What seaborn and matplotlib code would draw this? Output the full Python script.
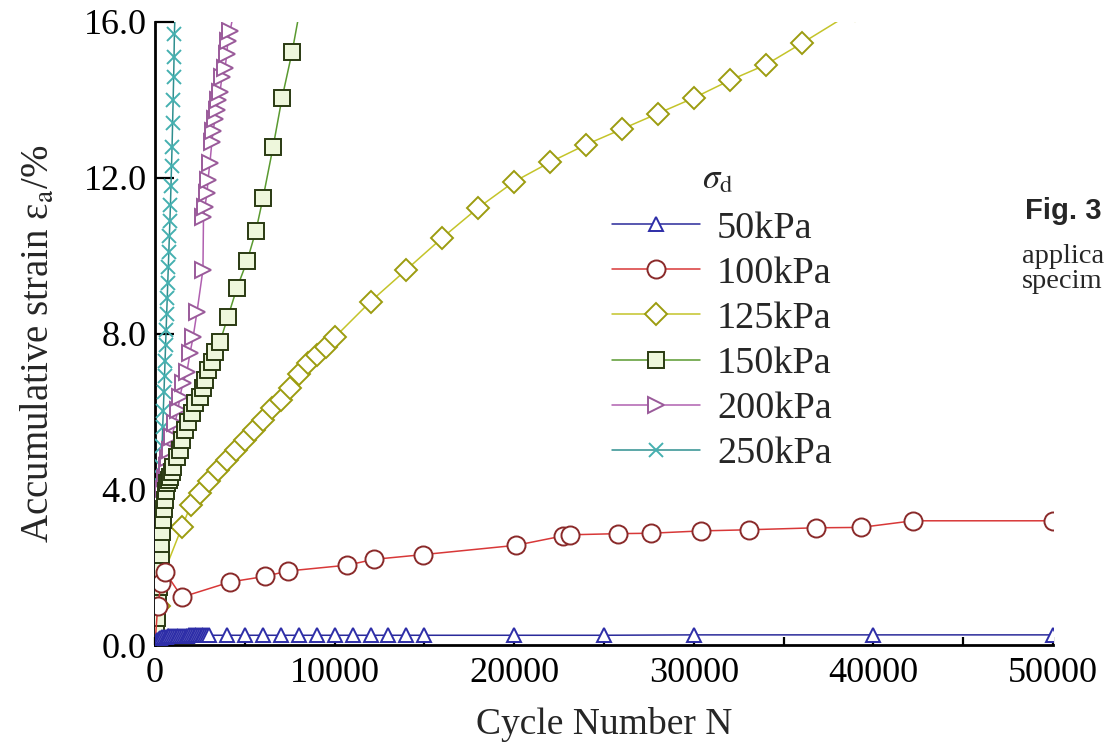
import numpy as np
import pandas as pd
import matplotlib
matplotlib.use("Agg")
import matplotlib.pyplot as plt
from matplotlib.ticker import MultipleLocator, FormatStrFormatter
import seaborn as sns

# ---- measured accumulative strain vs. cycle number -------------------------
cycles_50 = [0, 100, 200, 300, 400, 500, 600, 700, 800, 900, 1000, 1100, 1200,
             1300, 1400, 1500, 1600, 1700, 1800, 1900, 2000, 2100, 2200, 2300,
             2400, 2500, 2600, 2700, 2800, 2900, 3000, 4000, 5000, 6000, 7000,
             8000, 9000, 10000, 11000, 12000, 13000, 14000, 15000, 20000, 25000,
             30000, 40000, 50000]
strain_50 = [0.0, 0.12, 0.16, 0.18, 0.20, 0.21, 0.21, 0.22, 0.22, 0.23, 0.23,
             0.23, 0.23, 0.24, 0.24, 0.24, 0.24, 0.24, 0.24, 0.25, 0.25, 0.25,
             0.25, 0.25, 0.25, 0.25, 0.25, 0.25, 0.25, 0.25, 0.25, 0.25, 0.25,
             0.25, 0.25, 0.25, 0.25, 0.25, 0.25, 0.25, 0.25, 0.25, 0.25, 0.25,
             0.25, 0.26, 0.26, 0.26]

cycles_100 = [0, 150, 350, 550, 1500, 4200, 6100, 7400, 10700, 12200, 14900,
              20100, 22700, 23100, 25800, 27600, 30400, 33100, 36800, 39300,
              42200, 50000]
strain_100 = [0.0, 1.0, 1.6, 1.88, 1.23, 1.62, 1.76, 1.90, 2.05, 2.20, 2.32,
              2.56, 2.80, 2.83, 2.86, 2.87, 2.93, 2.96, 3.01, 3.02, 3.19, 3.19]

cycles_125 = [0, 200, 450, 1500, 2000, 2500, 3000, 3500, 4000, 4500, 5000,
              5500, 6000, 6500, 7000, 7500, 8000, 8500, 9000, 9500, 10000,
              12000, 14000, 16000, 18000, 20000, 22000, 24000, 26000, 28000,
              30000, 32000, 34000, 36000, 39000]
strain_125 = [0.0, 1.0, 1.8, 3.03, 3.6, 3.9, 4.2, 4.5, 4.75, 5.0, 5.27, 5.53,
              5.78, 6.09, 6.3, 6.6, 6.95, 7.25, 7.45, 7.65, 7.9, 8.82, 9.64,
              10.46, 11.23, 11.9, 12.4, 12.85, 13.25, 13.65, 14.05, 14.5, 14.9,
              15.45, 16.3]

cycles_150 = [0, 60, 100, 170, 220, 280, 320, 360, 400, 450, 500, 560, 610, 670,
              760, 840, 920, 1000, 1220, 1390, 1500, 1670, 1840, 2060, 2230,
              2510, 2670, 2780, 2950, 3170, 3340, 3620, 4060, 4570, 5120, 5620,
              6010, 6570, 7070, 7630, 8100]
strain_150 = [0.0, 0.4, 0.7, 1.16, 1.5, 1.93, 2.3, 2.6, 2.9, 3.21, 3.5, 3.73,
              3.95, 4.16, 4.25, 4.32, 4.45, 4.58, 4.83, 5.01, 5.27, 5.53, 5.73,
              5.96, 6.22, 6.38, 6.61, 6.81, 7.07, 7.28, 7.53, 7.79, 8.43, 9.18,
              9.85, 10.64, 11.47, 12.78, 14.04, 15.22, 16.4]

cycles_200 = [0, 60, 150, 250, 350, 450, 550, 650, 750, 840, 950, 1110, 1280,
              1390, 1560, 1780, 1950, 2120, 2340, 2670, 2700, 2780, 2900, 2950,
              3060, 3170, 3230, 3340, 3450, 3510, 3620, 3730, 3900, 4000, 4050,
              4180, 4400]
strain_200 = [0.0, 1.5, 2.6, 3.2, 3.7, 4.0, 4.3, 4.6, 4.8, 5.0, 5.35, 5.7,
              6.04, 6.38, 6.74, 7.02, 7.5, 7.9, 8.56, 9.64, 11.0, 11.26, 11.62,
              11.95, 12.39, 12.93, 13.19, 13.5, 13.75, 14.0, 14.2, 14.6, 14.83,
              15.17, 15.5, 15.76, 16.3]

cycles_250 = [0, 60, 120, 170, 220, 270, 310, 350, 390, 430, 460, 500, 530, 560,
              590, 620, 650, 680, 710, 740, 770, 800, 830, 860, 890, 920, 950,
              980, 1010, 1040, 1060, 1080, 1120]
strain_250 = [0.0, 0.8, 1.6, 2.3, 3.0, 3.6, 4.1, 4.6, 5.1, 5.6, 6.0, 6.5, 6.9,
              7.3, 7.7, 8.1, 8.5, 8.9, 9.3, 9.7, 10.1, 10.5, 10.9, 11.3, 11.8,
              12.3, 12.8, 13.4, 14.0, 14.6, 15.1, 15.7, 16.3]

series_labels = ["50kPa", "100kPa", "125kPa", "150kPa", "200kPa", "250kPa"]
x_ticks = [0, 10000, 20000, 30000, 40000, 50000]
y_ticks = [0.0, 4.0, 8.0, 12.0, 16.0]

# ---- styling ----------------------------------------------------------------
sns.set_theme(style="ticks")
plt.rcParams["font.family"] = ["Liberation Serif", "DejaVu Serif"]
plt.rcParams["mathtext.fontset"] = "stix"

styles = {
    "50kPa":  dict(color="#2a2a9a", marker="^", ms=10, mfc="white", mec="#2e2ea8", z=8),
    "100kPa": dict(color="#d83838", marker="o", ms=13, mfc="white", mec="#8a2a2a", z=7),
    "125kPa": dict(color="#c4c42a", marker="D", ms=11, mfc="white", mec="#9c9c10", z=5),
    "150kPa": dict(color="#5a9a30", marker="s", ms=11, mfc="#eef7dc", mec="#2a3a12", z=6),
    "200kPa": dict(color="#b060b0", marker=">", ms=12, mfc="white", mec="#9a5a9a", z=4),
    "250kPa": dict(color="#2f8f8f", marker="x", ms=10, mfc="none", mec="#45b0b0", z=3),
}

frames = []
for lab, xs, ys in zip(series_labels,
                       [cycles_50, cycles_100, cycles_125, cycles_150, cycles_200, cycles_250],
                       [strain_50, strain_100, strain_125, strain_150, strain_200, strain_250]):
    frames.append(pd.DataFrame({"N": xs, "strain": ys, "sigma": lab}))
df = pd.concat(frames, ignore_index=True)

fig = plt.figure(figsize=(11.04, 7.55), dpi=100)
ax = fig.add_axes([155 / 1104, 1 - 645 / 755, 898 / 1104, 623 / 755])

for lab in series_labels:
    st = styles[lab]
    sub = df[df["sigma"] == lab]
    sns.lineplot(data=sub, x="N", y="strain", ax=ax, sort=False, estimator=None,
                 color=st["color"], linewidth=1.1, marker=st["marker"],
                 markersize=st["ms"], markerfacecolor=st["mfc"],
                 markeredgecolor=st["mec"], markeredgewidth=1.4,
                 label=lab, zorder=st["z"], legend=False)

ax.set_xlim(0, 50000)
ax.set_ylim(0, 16)
ax.set_xticks(x_ticks)
ax.set_yticks(y_ticks)
ax.xaxis.set_minor_locator(MultipleLocator(5000))
ax.yaxis.set_major_formatter(FormatStrFormatter("%.1f"))

for side in ("top", "right"):
    ax.spines[side].set_visible(False)
for side in ("left", "bottom"):
    ax.spines[side].set_linewidth(2.0)
    ax.spines[side].set_color("black")

ax.tick_params(axis="x", which="both", direction="in", length=6, width=1.6,
               labelsize=26, pad=9, colors="black")
ax.tick_params(axis="y", which="major", direction="in", length=14, width=1.6,
               labelsize=26, pad=6, colors="black")
ax.set_facecolor("white")
ax.grid(False)

ax.set_xlabel("Cycle Number N", fontsize=27, labelpad=12)
ax.set_ylabel("Accumulative strain ε$_{\\mathrm{a}}$/%", fontsize=28)
ax.yaxis.set_label_coords(-0.108, 0.483)

handles = ax.get_lines()[:len(series_labels)]
leg = ax.legend(handles, series_labels,
                loc="upper left", bbox_to_anchor=(612 / 1104, 1 - 211 / 755),
                bbox_transform=fig.transFigure, frameon=False, fontsize=27.5,
                handlelength=2.3, handletextpad=0.45,
                labelspacing=0.27, borderaxespad=0, borderpad=0)
# legend heading: dynamic stress amplitude
fig.text(718 / 1104, 1 - 180 / 755, r"$\sigma_{\mathrm{d}}$", fontsize=25,
         ha="center", va="center")

# caption fragments at the right edge of the page
fig.text(1025 / 1104, 1 - 219 / 755, "Fig. 3", fontsize=21, fontweight="bold",
         family=["Liberation Sans", "DejaVu Sans"], va="baseline", ha="left")
fig.text(1022 / 1104, 1 - 263 / 755, "applica", fontsize=20.5, va="baseline", ha="left")
fig.text(1022 / 1104, 1 - 288 / 755, "specim", fontsize=20.5, va="baseline", ha="left")

fig.savefig("out.png", dpi=100, facecolor="white")
